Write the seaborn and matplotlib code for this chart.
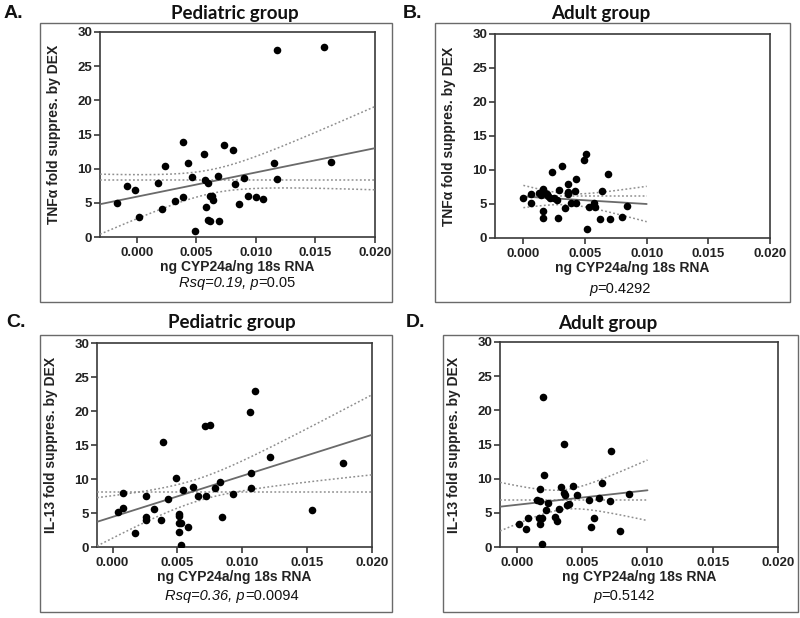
import numpy as np
import pandas as pd
import matplotlib
matplotlib.use("Agg")
import matplotlib.pyplot as plt
from matplotlib.patches import Rectangle
import seaborn as sns

# ---------------- data ----------------
xA = [-0.0017, -0.0008, -0.0002, 0.0002, 0.0018, 0.0021, 0.0024, 0.0032, 0.0039, 0.0039,
      0.0043, 0.0046, 0.0049, 0.0056, 0.0057, 0.0058, 0.0060, 0.0060, 0.0061, 0.0061,
      0.0063, 0.0064, 0.0068, 0.0069, 0.0073, 0.0081, 0.0082, 0.0086, 0.0090, 0.0093,
      0.0100, 0.0106, 0.0115, 0.0118, 0.0118, 0.0157, 0.0163]
yA = [5.0, 7.4, 6.9, 2.9, 7.85, 4.15, 10.4, 5.3, 13.9, 5.85,
      10.9, 8.8, 0.9, 12.1, 8.4, 4.4, 7.95, 2.5, 2.3, 5.95,
      5.95, 5.4, 8.9, 2.3, 13.5, 12.7, 7.7, 4.9, 8.7, 6.0,
      5.85, 5.6, 10.9, 27.3, 8.5, 27.8, 11.0]

xB = [0.0000, 0.0006, 0.0006, 0.0013, 0.0016, 0.0017, 0.0016, 0.0016, 0.0019, 0.0022,
      0.0023, 0.0025, 0.0029, 0.0028, 0.0031, 0.0034, 0.0036, 0.0036, 0.0036, 0.0039,
      0.0042, 0.0043, 0.0043, 0.0049, 0.0051, 0.0052, 0.0053, 0.0057, 0.0058, 0.0062,
      0.0064, 0.0069, 0.0070, 0.0080, 0.0084, 0.0020, 0.0027, 0.0014]
yB = [5.85, 6.45, 5.15, 6.6, 7.2, 6.7, 4.0, 3.0, 6.4, 5.9,
      9.75, 5.85, 7.1, 3.0, 10.6, 4.4, 7.9, 6.7, 6.4, 5.15,
      6.9, 8.7, 5.15, 11.5, 12.4, 1.3, 4.6, 5.2, 4.6, 2.8,
      6.85, 9.45, 2.85, 3.1, 4.65, 6.2, 5.6, 6.3]

xC = [0.00044, 0.00077, 0.00077, 0.0017, 0.0026, 0.0026, 0.0026, 0.0032, 0.0037, 0.0039,
      0.0043, 0.0049, 0.0051, 0.0051, 0.0051, 0.0053, 0.0051, 0.0053, 0.0054, 0.0058,
      0.0062, 0.0066, 0.0071, 0.0072, 0.0075, 0.0079, 0.0083, 0.0084, 0.0093, 0.0106,
      0.0107, 0.0107, 0.0110, 0.0121, 0.0154, 0.0178]
yC = [5.15, 5.75, 7.95, 2.1, 3.9, 4.35, 7.45, 5.6, 3.95, 15.4,
      7.05, 10.2, 4.9, 4.5, 3.5, 3.5, 2.25, 0.35, 8.4, 3.0,
      8.8, 7.45, 17.8, 7.45, 18.0, 8.75, 9.6, 4.4, 7.75, 19.85,
      10.9, 8.75, 22.9, 13.2, 5.4, 12.3]

xD = [0.00013, 0.0007, 0.00084, 0.0015, 0.0017, 0.0018, 0.0018, 0.0018, 0.0019, 0.0019,
      0.0020, 0.0021, 0.0022, 0.0024, 0.0029, 0.0031, 0.0032, 0.0034, 0.0036, 0.0036,
      0.0037, 0.0038, 0.0040, 0.0043, 0.0046, 0.0055, 0.0057, 0.0059, 0.0063, 0.0065,
      0.0071, 0.0072, 0.0079, 0.0086]
yD = [3.3, 2.65, 4.25, 6.85, 4.3, 8.45, 6.75, 3.35, 4.3, 0.45,
      22.0, 10.6, 5.4, 6.45, 4.4, 3.8, 5.55, 8.8, 7.85, 15.1,
      7.6, 6.1, 6.35, 8.95, 7.6, 6.85, 2.95, 4.3, 7.1, 9.4,
      6.7, 14.1, 2.4, 7.7]

# regression lines as drawn in the reference (x start/end and y at those x)
fit_x0 = [-0.0031, 0.0, -0.0012, -0.0013]
fit_x1 = [0.020, 0.010, 0.020, 0.010]
fit_y0 = [4.8, 6.1, 3.7, 5.9]
fit_y1 = [13.0, 5.0, 16.5, 8.3]

panel_letters = ["A.", "B.", "C.", "D."]
titles = ["Pediatric group", "Adult group", "Pediatric group", "Adult group"]
ylabels = ["TNF\u03b1 fold suppres. by DEX", "TNF\u03b1 fold suppres. by DEX",
           "IL-13 fold suppres. by DEX", "IL-13 fold suppres. by DEX"]
xlabel = "ng CYP24a/ng 18s RNA"
stat_italic = ["Rsq=0.19, p", "p", "Rsq=0.36, p", "p"]
stat_plain = ["=0.05", "=0.4292", "=0.0094", "=0.5142"]
xticks = [0.000, 0.005, 0.010, 0.015, 0.020]
yticks = [0, 5, 10, 15, 20, 25, 30]
xlims = [(-0.0031, 0.020), (-0.0023, 0.020), (-0.0012, 0.020), (-0.0013, 0.020)]
T_CRIT = 2.03

# ---------------- layout (pixels in an 800x618 canvas) ----------------
W, H = 800, 618
axes_px = [(100, 32, 375, 237), (495, 34, 770, 238), (97, 343, 372, 547), (500, 342, 778, 547)]
boxes_px = [(40, 23, 392, 302), (435, 23, 790, 302), (40, 335, 392, 612), (443, 335, 798, 612)]
title_px = [(235, 13), (601, 13), (232, 323), (608, 324)]
letter_px = [(4, 13), (403, 13), (6, 323), (406, 323)]
stat_px = [(237, 283), (620, 289), (232, 596), (624, 596)]

sns.set_style("ticks")
plt.rcParams["font.family"] = ["Liberation Sans", "DejaVu Sans"]

fig = plt.figure(figsize=(8, 6.18), dpi=100)
fig.patch.set_facecolor("white")

def fx(p):
    return p / W

def fy(p):
    return 1 - p / H

spine_c = "#3a3a3a"
band_c = "#8f8f8f"
datasets = [(xA, yA), (xB, yB), (xC, yC), (xD, yD)]
stat_texts = []
for i, (xs, ys) in enumerate(datasets):
    l, t, r, b = axes_px[i]
    ax = fig.add_axes([fx(l), fy(b), (r - l) / W, (b - t) / H])
    df = pd.DataFrame({"x": xs, "y": ys})
    sns.scatterplot(data=df, x="x", y="y", ax=ax, color="black", s=30,
                    edgecolor="black", linewidth=0, zorder=5)

    # regression line (as shown) + 95% confidence band from the data scatter
    x = np.asarray(xs)
    y = np.asarray(ys)
    n = len(x)
    slope = (fit_y1[i] - fit_y0[i]) / (fit_x1[i] - fit_x0[i])
    intercept = fit_y0[i] - slope * fit_x0[i]
    resid = y - (intercept + slope * x)
    s = np.sqrt(np.sum(resid ** 2) / (n - 2))
    sxx = np.sum((x - x.mean()) ** 2)
    grid = np.linspace(fit_x0[i], fit_x1[i], 200)
    yhat = intercept + slope * grid
    se = s * np.sqrt(1 / n + (grid - x.mean()) ** 2 / sxx)
    dots = (0, (1.2, 1.5))
    ax.plot(grid, yhat, color="#6a6a6a", lw=1.3, zorder=4)
    ax.plot(grid, yhat + T_CRIT * se, color=band_c, lw=1.1, ls=dots, zorder=3)
    ax.plot(grid, yhat - T_CRIT * se, color=band_c, lw=1.1, ls=dots, zorder=3)
    ax.plot(grid, np.full_like(grid, y.mean()), color=band_c, lw=1.1, ls=dots, zorder=3)

    ax.set_xlim(*xlims[i])
    ax.set_ylim(0, 30)
    ax.set_xticks(xticks)
    ax.set_xticklabels([f"{v:.3f}" for v in xticks])
    ax.set_yticks(yticks)
    ax.tick_params(axis="x", direction="out", length=4, width=1.2, color=spine_c,
                   labelsize=9.5, pad=3)
    ax.tick_params(axis="y", direction="out", length=4, width=1.2, color=spine_c,
                   labelsize=9.5, pad=1.5)
    for lab in ax.get_xticklabels() + ax.get_yticklabels():
        lab.set_fontweight("bold")
        lab.set_color("#222222")
    for sp in ax.spines.values():
        sp.set_visible(True)
        sp.set_color(spine_c)
        sp.set_linewidth(1.2)
    ax.set_xlabel(xlabel, fontsize=10, fontweight="bold", color="#222222", labelpad=1)
    ax.set_ylabel(ylabels[i], fontsize=10, fontweight="bold", color="#222222", labelpad=12)

    # panel outer box
    bl, bt, br, bb = boxes_px[i]
    fig.patches.append(Rectangle((fx(bl), fy(bb)), (br - bl) / W, (bb - bt) / H,
                                 transform=fig.transFigure, fill=False,
                                 edgecolor="#6a6a6a", lw=1.0))
    tx, ty = title_px[i]
    fig.text(fx(tx), fy(ty), titles[i], ha="center", va="center", fontsize=13.5,
             fontweight="bold", family=["Lato", "DejaVu Sans"], color="#111111")
    lx, ly = letter_px[i]
    fig.text(fx(lx), fy(ly), panel_letters[i], ha="left", va="center", fontsize=14,
             fontweight="bold", color="#111111")
    sx, sy = stat_px[i]
    t1 = fig.text(fx(sx), fy(sy), stat_italic[i], ha="left", va="center", fontsize=10.5,
                  style="italic", color="#111111")
    t2 = fig.text(fx(sx), fy(sy), stat_plain[i], ha="left", va="center", fontsize=10.5,
                  color="#111111")
    stat_texts.append((t1, t2, sx, sy))

fig.canvas.draw()
rend = fig.canvas.get_renderer()
for t1, t2, sx, sy in stat_texts:
    w1 = t1.get_window_extent(rend).width
    w2 = t2.get_window_extent(rend).width
    left = sx - (w1 + w2) / 2
    t1.set_position((fx(left), fy(sy)))
    t2.set_position((fx(left + w1), fy(sy)))

fig.savefig("out.png", dpi=100, facecolor="white")
